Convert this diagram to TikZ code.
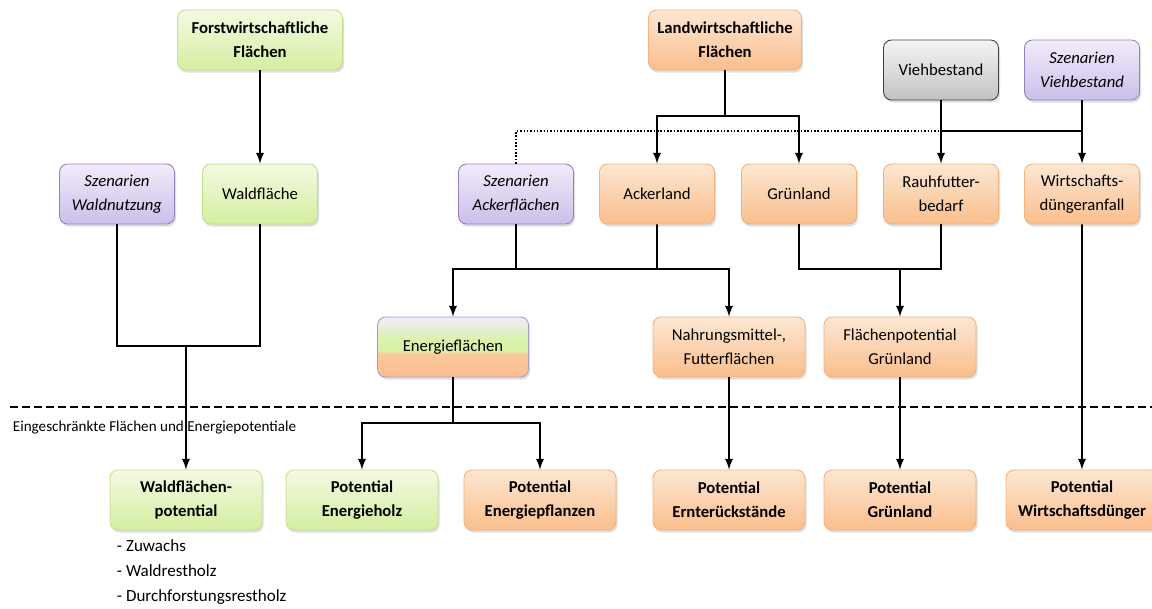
\documentclass[tikz,border=0pt]{standalone}
\usepackage{fontspec}
\setmainfont{Carlito}
\usetikzlibrary{shadows}

\definecolor{grtop}{RGB}{244,250,226}
\definecolor{grbot}{RGB}{212,238,160}
\definecolor{grline}{RGB}{196,222,142}
\definecolor{ortop}{RGB}{253,231,212}
\definecolor{orbot}{RGB}{250,190,140}
\definecolor{orline}{RGB}{244,178,124}
\definecolor{lltop}{RGB}{241,236,250}
\definecolor{llbot}{RGB}{204,190,234}
\definecolor{llline}{RGB}{150,130,186}
\definecolor{grmid}{RGB}{216,242,168}
\pgfdeclareverticalshading{energieshade}{100bp}{color(0bp)=(orbot); color(25bp)=(orbot); color(44bp)=(orbot!85!white); color(47bp)=(grmid); color(55bp)=(grmid); color(67bp)=(grmid!40!lltop); color(75bp)=(lltop); color(100bp)=(lltop)}

\begin{document}
\begin{tikzpicture}[x=0.2mm, y=-0.2mm, >=latex, line width=1.1pt,
  box/.style = {rounded corners=1.6mm, line width=0.5pt, align=center, inner sep=1pt,
    minimum width=23mm, minimum height=12mm, font=\fontsize{9.5}{13.6}\selectfont,
    drop shadow={shadow xshift=0.3mm, shadow yshift=-0.5mm, opacity=0.25}},
  fett/.style = {font=\bfseries\fontsize{9.5}{13.6}\selectfont},
  breit/.style = {minimum width=30.4mm},
  forst/.style = {box, draw=grline, top color=grtop, bottom color=grbot},
  agrar/.style = {box, draw=orline, top color=ortop, bottom color=orbot},
  szen/.style = {box, draw=llline, top color=lltop, bottom color=llbot, font=\itshape\fontsize{9.5}{13.6}\selectfont},
  grau/.style = {box, draw=black!75, top color=black!4, bottom color=black!24}]
\useasboundingbox (0,0) rectangle (1152,608);

% obere Ebene
\node[forst, fett, minimum width=33mm] (forstfl) at (260,40) {Forstwirtschaftliche\\Flächen};
\node[agrar, fett, minimum width=30.6mm] (landfl) at (725,40) {Landwirtschaftliche\\Flächen};

% mittlere Ebene
\node[forst] (waldfl) [node distance=30.8mm, below of=forstfl] {Waldfläche};
\node[szen] (szwald) [node distance=28.6mm, left of=waldfl] {Szenarien\\Waldnutzung};
\node[szen] (szacker) at (516,194) {Szenarien\\Ackerflächen};
\node[agrar] (acker) [node distance=28.2mm, right of=szacker] {Ackerland};
\node[agrar] (gruen) [node distance=28.4mm, right of=acker] {Grünland};
\node[agrar] (rauh) [node distance=28.4mm, right of=gruen] {Rauhfutter-\\bedarf};
\node[agrar] (wirt) [node distance=28.2mm, right of=rauh] {Wirtschafts-\\düngeranfall};
\node[grau] (vieh) [node distance=24.8mm, above of=rauh] {Viehbestand};
\node[szen] (szvieh) [node distance=24.8mm, above of=wirt] {Szenarien\\Viehbestand};

\node[box, draw=llline!80, shading=energieshade, minimum width=30.2mm] (energie) at (453,347) {Energieflächen};
\node[agrar, breit] (nahrung) at (729,347) {Nahrungsmittel-,\\Futterflächen};
\node[agrar, breit] (flpot) at (900,347) {Flächenpotential\\Grünland};

% untere Ebene
\node[forst, fett, breit] (potwald) at (186,500) {Waldflächen-\\potential};
\node[forst, fett, breit] (potholz) [node distance=35.2mm, right of=potwald] {Potential\\Energieholz};
\node[agrar, fett, breit] (potpfl) [node distance=35.6mm, right of=potholz] {Potential\\Energiepflanzen};
\node[agrar, fett, breit] (poternte) [node distance=30.6mm, below of=nahrung] {Potential\\Ernterückstände};
\node[agrar, fett, breit] (potgruen) [node distance=30.6mm, below of=flpot] {Potential\\Grünland};
\node[agrar, fett, breit] (potduenger) at (1082,500) {Potential\\Wirtschaftsdünger};

\draw[line width=0.9pt, dash pattern=on 1.6mm off 0.8mm] (10,407) -- (1152,407);
\node[anchor=west, inner sep=0pt, font=\fontsize{8.6}{10}\selectfont] (grenze) at (12,428) {Eingeschränkte Flächen und Energiepotentiale};
\node[anchor=north west, align=left, inner sep=0pt, font=\fontsize{9.7}{14.2}\selectfont] (liste) at (116,539) {- Zuwachs\\- Waldrestholz\\- Durchforstungsrestholz};

\coordinate (jwald) at (186,346);
\coordinate (jland) at (725,116);
\coordinate (jvieh) at (941,131);
\coordinate (jacker) at (657,269);
\coordinate (jgruen) at (900,269);
\coordinate (jenergie) at (453,423);

\draw[->] (forstfl) -- (waldfl);
\draw (szwald) |- (jwald);
\draw (waldfl) |- (jwald);
\draw[->] (jwald) -- (potwald);

\draw (landfl) -- (jland);
\draw[->] (jland) -| (acker);
\draw[->] (jland) -| (gruen);
\draw[line width=0.9pt, densely dotted] (szacker) |- (jvieh);
\draw[->] (vieh) -- (rauh);
\draw[->] (szvieh) -- (wirt);
\draw (jvieh) -- (wirt |- jvieh);

\draw (szacker) |- (jacker);
\draw (acker) -- (jacker);
\draw[->] (jacker) -| (energie);
\draw[->] (jacker) -| (nahrung);
\draw (gruen) |- (jgruen);
\draw (rauh) |- (jgruen);
\draw[->] (jgruen) -- (flpot);
\draw[->] (wirt) -- (potduenger);

\draw (energie) -- (jenergie);
\draw[->] (jenergie) -| (potholz);
\draw[->] (jenergie) -| (potpfl);
\draw[->] (nahrung) -- (poternte);
\draw[->] (flpot) -- (potgruen);

\end{tikzpicture}
\end{document}
